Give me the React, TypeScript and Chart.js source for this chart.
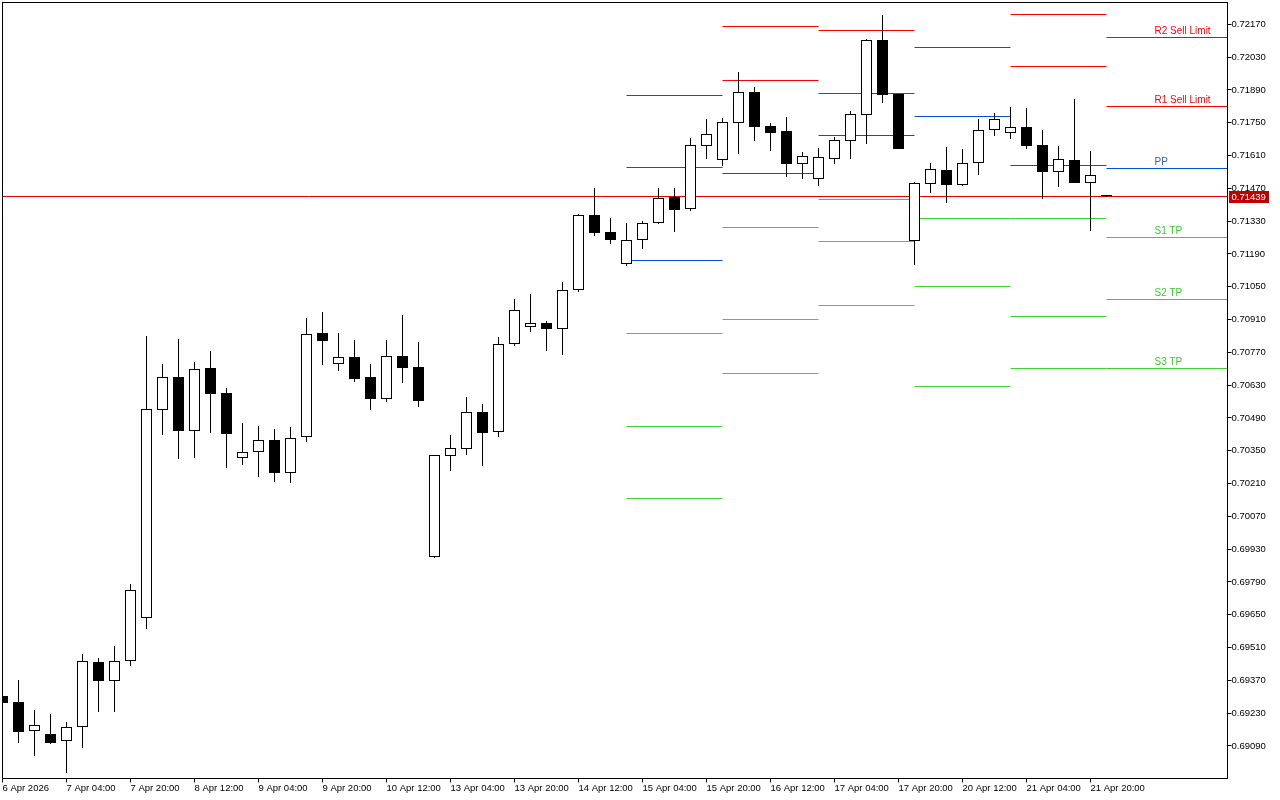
import { useEffect, useRef } from 'react';
import { Chart, registerables } from 'chart.js';

Chart.register(...registerables);

// ---- Data (H4 candles, 6 Apr 2026 12:00 -> 22 Apr 2026 00:00) ----
const xTickBars = [0, 4, 8, 12, 16, 20, 24, 28, 32, 36, 40, 44, 48, 52, 56, 60, 64, 68];
const xTickLabels = [
  '6 Apr 2026', '7 Apr 04:00', '7 Apr 20:00', '8 Apr 12:00', '9 Apr 04:00', '9 Apr 20:00',
  '10 Apr 12:00', '13 Apr 04:00', '13 Apr 20:00', '14 Apr 12:00', '15 Apr 04:00', '15 Apr 20:00',
  '16 Apr 12:00', '17 Apr 04:00', '17 Apr 20:00', '20 Apr 12:00', '21 Apr 04:00', '21 Apr 20:00',
];

const yTicks = [
  0.6909, 0.6923, 0.6937, 0.6951, 0.6965, 0.6979, 0.6993, 0.7007, 0.7021, 0.7035, 0.7049, 0.7063,
  0.7077, 0.7091, 0.7105, 0.7119, 0.7133, 0.7147, 0.7161, 0.7175, 0.7189, 0.7203, 0.7217,
];

const opens = [
  0.69303, 0.69278, 0.69153, 0.6914, 0.6911, 0.6917, 0.69447, 0.69369, 0.69451, 0.69635,
  0.70523, 0.70663, 0.70435, 0.70702, 0.70595, 0.70318, 0.70343, 0.70395, 0.70256, 0.70407,
  0.70851, 0.70719, 0.70749, 0.70663, 0.70572, 0.70753, 0.70706, 0.69898, 0.70326, 0.70359,
  0.70514, 0.70431, 0.70804, 0.70877, 0.70894, 0.70871, 0.71035, 0.71356, 0.71284, 0.71146,
  0.71248, 0.71321, 0.71432, 0.7138, 0.71652, 0.71592, 0.7175, 0.71881, 0.71736, 0.71715,
  0.71575, 0.71511, 0.71596, 0.71673, 0.71784, 0.72102, 0.71874, 0.71244, 0.71487, 0.71547,
  0.71483, 0.71577, 0.71718, 0.71705, 0.71731, 0.71655, 0.71541, 0.71591, 0.71494, 0.71439,
];
const highs = [
  0.69307, 0.69372, 0.69243, 0.69226, 0.69192, 0.69482, 0.69464, 0.69517, 0.69781, 0.7084,
  0.7072, 0.70827, 0.70729, 0.70776, 0.70616, 0.70468, 0.70456, 0.70443, 0.70451, 0.70916,
  0.70942, 0.70851, 0.70821, 0.70719, 0.70821, 0.70929, 0.70813, 0.70332, 0.70417, 0.70578,
  0.70549, 0.70834, 0.70998, 0.71019, 0.70904, 0.7107, 0.7136, 0.71471, 0.71343, 0.71322,
  0.71329, 0.71471, 0.71471, 0.71685, 0.71766, 0.71771, 0.71966, 0.71902, 0.71749, 0.71774,
  0.71624, 0.71642, 0.71688, 0.718, 0.72106, 0.7221, 0.71874, 0.71497, 0.71578, 0.71646,
  0.71638, 0.71766, 0.71791, 0.71817, 0.71813, 0.71719, 0.71651, 0.71851, 0.71629, 0.71439,
];
const lows = [
  0.69273, 0.69104, 0.69048, 0.691, 0.68976, 0.69083, 0.69236, 0.69236, 0.69433, 0.69588,
  0.70417, 0.70316, 0.7032, 0.70427, 0.70278, 0.7029, 0.70239, 0.70217, 0.70212, 0.70389,
  0.70717, 0.70692, 0.70645, 0.70525, 0.70559, 0.7064, 0.70538, 0.69894, 0.70265, 0.70333,
  0.70286, 0.7041, 0.70799, 0.70858, 0.70777, 0.7076, 0.71029, 0.71268, 0.71234, 0.71138,
  0.71212, 0.71318, 0.71285, 0.71373, 0.71596, 0.71567, 0.71618, 0.71673, 0.71631, 0.7152,
  0.71511, 0.71481, 0.71575, 0.71596, 0.7166, 0.71835, 0.71639, 0.71144, 0.71451, 0.71409,
  0.7148, 0.71528, 0.71694, 0.71682, 0.71639, 0.71426, 0.71477, 0.71493, 0.71289, 0.71439,
];
const closes = [
  0.69275, 0.69151, 0.69178, 0.69104, 0.6917, 0.69451, 0.69369, 0.69451, 0.69754, 0.70527,
  0.70663, 0.70435, 0.70698, 0.70593, 0.70423, 0.70343, 0.70395, 0.70256, 0.70403, 0.70847,
  0.7082, 0.70749, 0.70657, 0.70572, 0.70753, 0.70704, 0.70564, 0.70331, 0.7036, 0.70514,
  0.70427, 0.70804, 0.70949, 0.70894, 0.70871, 0.71035, 0.71356, 0.7128, 0.71249, 0.71248,
  0.71321, 0.71427, 0.71379, 0.71655, 0.717, 0.71752, 0.7188, 0.71733, 0.71707, 0.71575,
  0.71607, 0.71602, 0.71675, 0.71786, 0.72102, 0.7187, 0.71639, 0.71493, 0.71551, 0.71485,
  0.71577, 0.71718, 0.71765, 0.7173, 0.71652, 0.71541, 0.71594, 0.71494, 0.71527, 0.71439,
];

const currentPrice = 0.71439;

// Daily pivot levels (one value per day), drawn from the day's first bar
const pivotDays = ['15 Apr', '16 Apr', '17 Apr', '20 Apr', '21 Apr', '22 Apr'];
const pivotStartBar = [39, 45, 51, 57, 63, 69];
const r2 = [0.71867, 0.72161, 0.72144, 0.72504, 0.72213, 0.72115];
const r1 = [0.7156, 0.71931, 0.71876, 0.72072, 0.71991, 0.7182];
const pp = [0.71163, 0.71534, 0.71696, 0.71777, 0.71568, 0.71555];
const s1 = [0.70851, 0.71304, 0.71423, 0.71345, 0.71344, 0.71261];
const s2 = [0.70454, 0.70911, 0.71244, 0.71052, 0.70924, 0.70996];
const s3 = [0.70147, 0.7068, 0.70971, 0.70625, 0.70702, 0.70702];
const levelNames = ['R2 Sell Limit', 'R1 Sell Limit', 'PP', 'S1 TP', 'S2 TP', 'S3 TP'];

// ---- Styles ----
const RED = '#ff0000';
const BLUE = '#0050e0';
const GREEN = '#40d030';
const PRICE_RED = '#e60000';
const X_MAX = 76.5625;
const Y_MIN = 0.689511;
const Y_MAX = 0.72263;
const AXIS_FONT = { family: '"Liberation Sans", Arial, sans-serif', size: 9.5 };

function segments(levels: number[]) {
  const pts: { x: number; y: number | null }[] = [];
  levels.forEach((v, d) => {
    const s = pivotStartBar[d];
    const e = d < pivotStartBar.length - 1 ? pivotStartBar[d + 1] : X_MAX;
    pts.push({ x: s, y: v }, { x: e, y: v }, { x: e, y: null });
  });
  return pts;
}

const levelSets: [number[], string, string, string][] = [
  [r2, levelNames[0], RED, RED],
  [r1, levelNames[1], RED, RED],
  [pp, levelNames[2], BLUE, '#2f5fd0'],
  [s1, levelNames[3], GREEN, '#3cc832'],
  [s2, levelNames[4], GREEN, '#3cc832'],
  [s3, levelNames[5], GREEN, '#3cc832'],
];

const overlay = {
  id: 'mtOverlay',
  beforeDatasetsDraw(chart: any) {
    // snap elements to whole pixels for crisp MT-like rendering
    chart.data.datasets.forEach((_ds: any, di: number) => {
      const meta = chart.getDatasetMeta(di);
      if (meta.type === 'line') {
        meta.data.forEach((p: any) => {
          if (Number.isFinite(p.y)) p.y = Math.round(p.y) + 0.5;
        });
        if (meta.dataset) meta.dataset._path = undefined;
      } else {
        meta.data.forEach((b: any) => {
          if (Number.isFinite(b.y)) b.y = Math.round(b.y);
          if (Number.isFinite(b.base)) b.base = Math.round(b.base);
          if (b.base === b.y) b.base = b.y + 1;
        });
      }
    });
  },
  afterDatasetsDraw(chart: any) {
    const { ctx, chartArea: a, scales } = chart;
    const y = scales.y;
    const last = pivotStartBar.length - 1;
    ctx.save();
    ctx.font = '10px "Liberation Sans", Arial, sans-serif';
    ctx.textAlign = 'left';
    ctx.textBaseline = 'alphabetic';
    levelSets.forEach(([vals, label, , textColor]) => {
      const py = Math.round(y.getPixelForValue(vals[last]));
      ctx.fillStyle = textColor;
      ctx.fillText(label, a.right - 73, py - 3);
    });
    ctx.restore();
  },
  afterDraw(chart: any) {
    const { ctx, chartArea: a, scales } = chart;
    const y = scales.y;
    ctx.save();
    ctx.strokeStyle = '#000';
    ctx.lineWidth = 1;
    const l = Math.floor(a.left) + 0.5;
    const t = Math.floor(a.top) + 0.5;
    const r = Math.floor(a.right) + 0.5;
    const b = Math.floor(a.bottom) + 0.5;
    ctx.strokeRect(l, t, r - l, b - t);
    const py = Math.round(y.getPixelForValue(currentPrice));
    ctx.fillStyle = '#c00000';
    ctx.fillRect(Math.floor(a.right) + 2, py - 5, 40, 12);
    ctx.fillStyle = '#ffffff';
    ctx.font = '9.5px "Liberation Sans", Arial, sans-serif';
    ctx.textAlign = 'left';
    ctx.textBaseline = 'middle';
    ctx.fillText(currentPrice.toFixed(5), Math.floor(a.right) + 4.5, py + 1);
    ctx.restore();
  },
};

export default function App() {
  const ref = useRef<HTMLCanvasElement | null>(null);

  useEffect(() => {
    const canvas = ref.current;
    if (!canvas) return;
    document.body.style.margin = '0';
    const bodyColors = opens.map((o, i) => (closes[i] > o ? '#ffffff' : '#000000'));

    const lineDs = levelSets.map(([vals, label, color]) => ({
      type: 'line' as const,
      label,
      data: segments(vals),
      borderColor: color,
      borderWidth: 1,
      pointRadius: 0,
      spanGaps: false,
      tension: 0,
      order: 3,
    }));

    const chart = new Chart(canvas, {
      type: 'bar',
      data: {
        datasets: [
          {
            type: 'bar',
            label: 'bodies',
            data: opens.map((o, i) => ({ x: i, y: [o, closes[i]] })) as any,
            backgroundColor: bodyColors,
            borderColor: '#000000',
            borderWidth: 1,
            borderSkipped: false,
            barThickness: 11,
            grouped: false,
            minBarLength: 1,
            inflateAmount: 0,
            order: 1,
          } as any,
          {
            type: 'bar',
            label: 'wicks',
            data: lows.map((l, i) => ({ x: i, y: [l, highs[i]] })) as any,
            backgroundColor: '#000000',
            borderWidth: 0,
            barThickness: 1,
            grouped: false,
            inflateAmount: 0,
            order: 2,
          } as any,
          ...lineDs,
          {
            type: 'line',
            label: 'price',
            data: [
              { x: 0, y: currentPrice },
              { x: X_MAX, y: currentPrice },
            ],
            borderColor: PRICE_RED,
            borderWidth: 1,
            pointRadius: 0,
            order: 4,
          } as any,
        ],
      },
      options: {
        responsive: false,
        devicePixelRatio: 1,
        animation: false,
        layout: { padding: { left: 2.5, top: 2.5, right: 0, bottom: 0 } },
        plugins: { legend: { display: false }, tooltip: { enabled: false } },
        events: [],
        scales: {
          x: {
            type: 'linear',
            position: 'bottom',
            min: 0,
            max: X_MAX,
            offset: false,
            border: { display: false },
            grid: {
              display: true,
              drawOnChartArea: false,
              drawTicks: true,
              tickLength: 4,
              color: '#000',
              tickColor: '#000',
              offset: false,
            },
            ticks: {
              autoSkip: false,
              maxRotation: 0,
              minRotation: 0,
              align: 'start',
              padding: 0,
              color: '#000',
              font: AXIS_FONT,
              callback: (_v: any, idx: number) => xTickLabels[idx],
            },
            afterBuildTicks: (scale: any) => {
              scale.ticks = xTickBars.map((v) => ({ value: v }));
            },
            afterFit: (scale: any) => {
              scale.height = 21.5;
              scale.paddingLeft = 0;
              scale.paddingRight = 0;
            },
          },
          y: {
            type: 'linear',
            position: 'right',
            min: Y_MIN,
            max: Y_MAX,
            border: { display: false },
            grid: {
              display: true,
              drawOnChartArea: false,
              drawTicks: true,
              tickLength: 4,
              color: '#000',
              tickColor: '#000',
            },
            ticks: {
              padding: 0,
              color: '#000',
              font: AXIS_FONT,
              callback: (v: any) => Number(v).toFixed(5),
            },
            afterBuildTicks: (scale: any) => {
              scale.ticks = yTicks.map((v) => ({ value: v }));
            },
            afterFit: (scale: any) => {
              scale.width = 52.5;
              scale.paddingTop = 0;
              scale.paddingBottom = 0;
            },
          },
        },
      } as any,
      plugins: [overlay],
    });

    return () => chart.destroy();
  }, []);

  return (
    <div style={{ position: 'absolute', left: 0, top: 0, width: 1280, height: 800, background: '#fff' }}>
      <canvas ref={ref} width={1280} height={800} style={{ display: 'block' }} />
    </div>
  );
}
